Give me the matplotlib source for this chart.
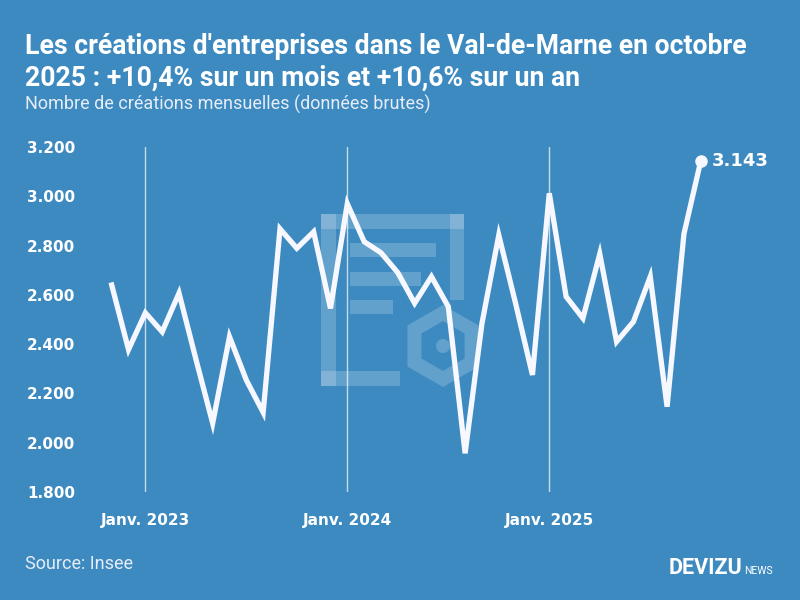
import matplotlib
matplotlib.use("Agg")
import matplotlib.pyplot as plt
from matplotlib.patches import Rectangle, RegularPolygon, Circle
import numpy as np

# données : créations mensuelles, nov. 2022 -> oct. 2025
mois = ["2022-11", "2022-12",
        "2023-01", "2023-02", "2023-03", "2023-04", "2023-05", "2023-06",
        "2023-07", "2023-08", "2023-09", "2023-10", "2023-11", "2023-12",
        "2024-01", "2024-02", "2024-03", "2024-04", "2024-05", "2024-06",
        "2024-07", "2024-08", "2024-09", "2024-10", "2024-11", "2024-12",
        "2025-01", "2025-02", "2025-03", "2025-04", "2025-05", "2025-06",
        "2025-07", "2025-08", "2025-09", "2025-10"]
creations = [2640, 2378,
             2527, 2450, 2607, 2340, 2079, 2430, 2254, 2123, 2868, 2789, 2856, 2545,
             2970, 2816, 2771, 2690, 2566, 2674, 2552, 1957, 2484, 2842, 2565, 2275,
             3012, 2593, 2505, 2766, 2410, 2491, 2674, 2146, 2847, 3143]
yticks = [1800, 2000, 2200, 2400, 2600, 2800, 3000, 3200]
xlabels = ["Janv. 2023", "Janv. 2024", "Janv. 2025"]

BG = "#3d8ac1"
LINE = "#f7f8ff"
TITLE_FONT = ["Roboto", "DejaVu Sans"]
LIGHT_FONT = ["Roboto", "DejaVu Sans"]
TICK_FONT = ["DejaVu Sans"]

fig = plt.figure(figsize=(8, 6), dpi=100, facecolor=BG)

# filigrane (logo) en arrière-plan
wm = dict(facecolor="white", alpha=0.2, edgecolor="none", transform=None)
def px(x, y):
    return (x, 600 - y)
for (x0, y0, w, h) in [(321, 214, 143, 15), (321, 214, 15, 172), (450, 214, 14, 86),
                       (321, 371, 79, 15), (350, 243, 86, 14), (350, 272, 71, 14),
                       (350, 300, 43, 14)]:
    fig.patches.append(Rectangle(px(x0, y0 + h), w, h, **wm))
fig.patches.append(RegularPolygon(px(443, 346), 6, radius=33, orientation=0,
                                  facecolor="none", edgecolor="white", alpha=0.2,
                                  linewidth=10, transform=None))
fig.patches.append(Circle(px(443, 346), 7, **wm))

ax = fig.add_axes([0.125, 0.18, 0.775, 0.575])
ax.set_facecolor("none")
x = np.arange(len(creations))
ax.plot(x, creations, color=LINE, lw=3.8, solid_joinstyle="miter", zorder=3)
ax.plot(x[-1], creations[-1], "o", color=LINE, ms=8, zorder=4)
ax.annotate(f"{creations[-1]:,}".replace(",", "."), (x[-1], creations[-1]),
            xytext=(8, 0), textcoords="offset points", va="center", ha="left",
            color="white", fontsize=13, fontweight="bold", family=TICK_FONT)

xl = -0.695
ax.set_xlim(xl, xl + 0.775 * 800 / 16.83)
ax.set_ylim(1800, 3200)

jan = [i for i, m in enumerate(mois) if m.endswith("-01")]
for j in jan:
    ax.axvline(j, color="white", lw=1, alpha=0.7, zorder=1)
ax.set_xticks(jan)
ax.set_xticklabels(xlabels)
ax.set_yticks(yticks)
ax.set_yticklabels([f"{v:,}".replace(",", ".") for v in yticks])
ax.tick_params(length=0, colors="white")
ax.tick_params(axis="y", pad=18)
ax.tick_params(axis="x", pad=15)
for lab in ax.get_yticklabels() + ax.get_xticklabels():
    lab.set_fontweight("bold")
    lab.set_fontsize(11)
    lab.set_family(TICK_FONT)
for s in ax.spines.values():
    s.set_visible(False)

fig.text(25 / 800, 1 - 54 / 600,
         "Les créations d'entreprises dans le Val-de-Marne en octobre",
         color="white", fontsize=19.2, fontweight="bold", family=TITLE_FONT,
         va="baseline")
fig.text(25 / 800, 1 - 86 / 600,
         "2025 : +10,4% sur un mois et +10,6% sur un an",
         color="white", fontsize=19.2, fontweight="bold", family=TITLE_FONT,
         va="baseline")
fig.text(25 / 800, 1 - 110 / 600,
         "Nombre de créations mensuelles (données brutes)",
         color="#e6edf7", fontsize=13, fontweight="normal", family=LIGHT_FONT,
         va="baseline")
fig.text(25 / 800, 1 - 569 / 600, "Source: Insee", color="#e6edf7",
         fontsize=13, fontweight="normal", family=LIGHT_FONT, va="baseline")
fig.text(742 / 800, 1 - 574 / 600, "DEVIZU", color="white", fontsize=15.5,
         fontweight="bold", family=TITLE_FONT, va="baseline", ha="right")
fig.text(744 / 800, 1 - 574 / 600, "NEWS", color="white", fontsize=7.5,
         family=TITLE_FONT, va="baseline", ha="left")

fig.savefig("out.png", dpi=100, facecolor=BG)
